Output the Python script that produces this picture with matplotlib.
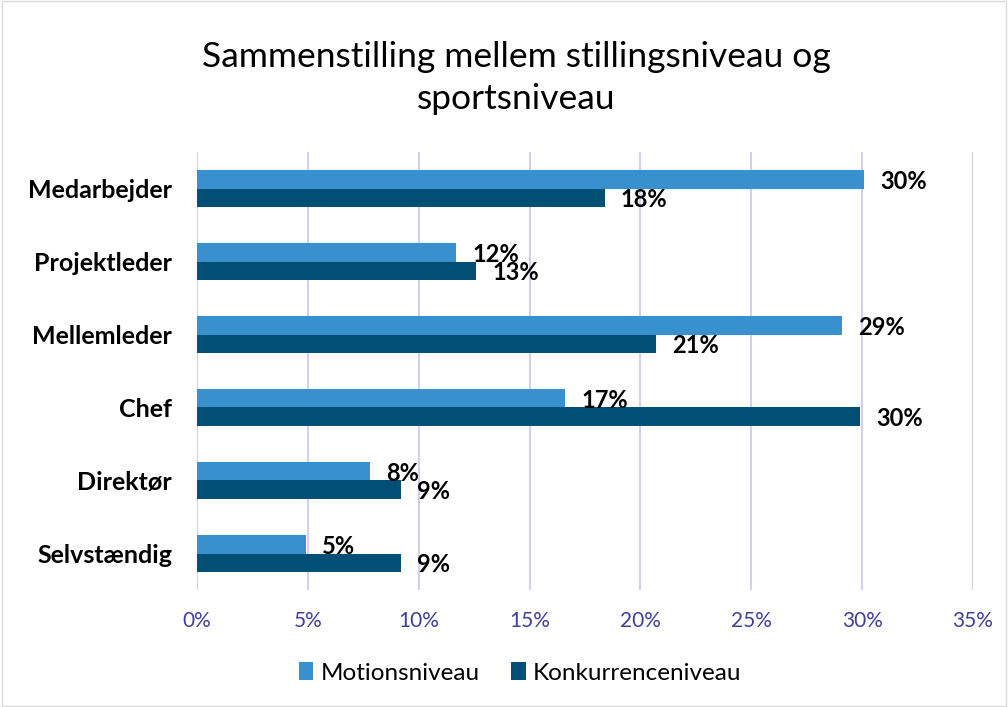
import numpy as np
import matplotlib.pyplot as plt
from matplotlib.patches import Rectangle
from matplotlib.ticker import PercentFormatter

categories = ["Medarbejder", "Projektleder", "Mellemleder", "Chef", "Direktør", "Selvstændig"]
motion = [30.1, 11.7, 29.1, 16.6, 7.8, 4.9]
konkurrence = [18.4, 12.6, 20.7, 29.9, 9.2, 9.2]
series_names = ["Motionsniveau", "Konkurrenceniveau"]

light = "#3891CE"
dark = "#024F76"
tick_col = "#3F3FA0"
grid_col = "#D3CFEF"

plt.rcParams['font.family'] = ['Lato', 'DejaVu Sans']

fig = plt.figure(figsize=(10.08, 7.07), dpi=100)
ax = fig.add_axes([197/1008, 1 - 590/707, 776/1008, 438/707])

y = np.arange(len(categories))
h = 0.25
ax.barh(y - h/2, motion, height=h, color=light, label=series_names[0], zorder=3)
ax.barh(y + h/2, konkurrence, height=h, color=dark, label=series_names[1], zorder=3)

for yi, v in zip(y, motion):
    ax.annotate(f"{v:.0f}%", (v, yi - h/2), xytext=(11.5, -1.5), textcoords="offset points",
                ha="left", va="center", fontsize=17, fontweight="bold", color="black", zorder=4)
for yi, v in zip(y, konkurrence):
    ax.annotate(f"{v:.0f}%", (v, yi + h/2), xytext=(11.5, -1.5), textcoords="offset points",
                ha="left", va="center", fontsize=17, fontweight="bold", color="black", zorder=4)

ax.set_xlim(0, 35)
ax.set_ylim(len(categories) - 0.5, -0.5)
ax.set_xticks(np.arange(0, 36, 5))
ax.xaxis.set_major_formatter(PercentFormatter(decimals=0))
ax.set_yticks(y)
ax.set_yticklabels(categories, fontsize=18, fontweight="bold")
ax.tick_params(axis="x", colors=tick_col, labelsize=15, length=0, pad=15)
ax.tick_params(axis="y", length=0, pad=18)
ax.grid(axis="x", color=grid_col, linewidth=1.5, zorder=0)
for s in ax.spines.values():
    s.set_visible(False)

fig.suptitle("Sammenstilling mellem stillingsniveau og\nsportsniveau", fontsize=25.5, y=0.942, x=0.512,
             linespacing=1.4)

fig.legend(loc="center", bbox_to_anchor=(0.516, 1 - 673/707), ncol=2, frameon=False, fontsize=17.5,
           handlelength=0.6, handleheight=0.7, handletextpad=0.3, columnspacing=1.3)

fig.patches.append(Rectangle((0.002, 0.002), 0.996, 0.996, transform=fig.transFigure,
                             fill=False, edgecolor="#D9D9D9", linewidth=1))

fig.savefig("out.png", dpi=100)
